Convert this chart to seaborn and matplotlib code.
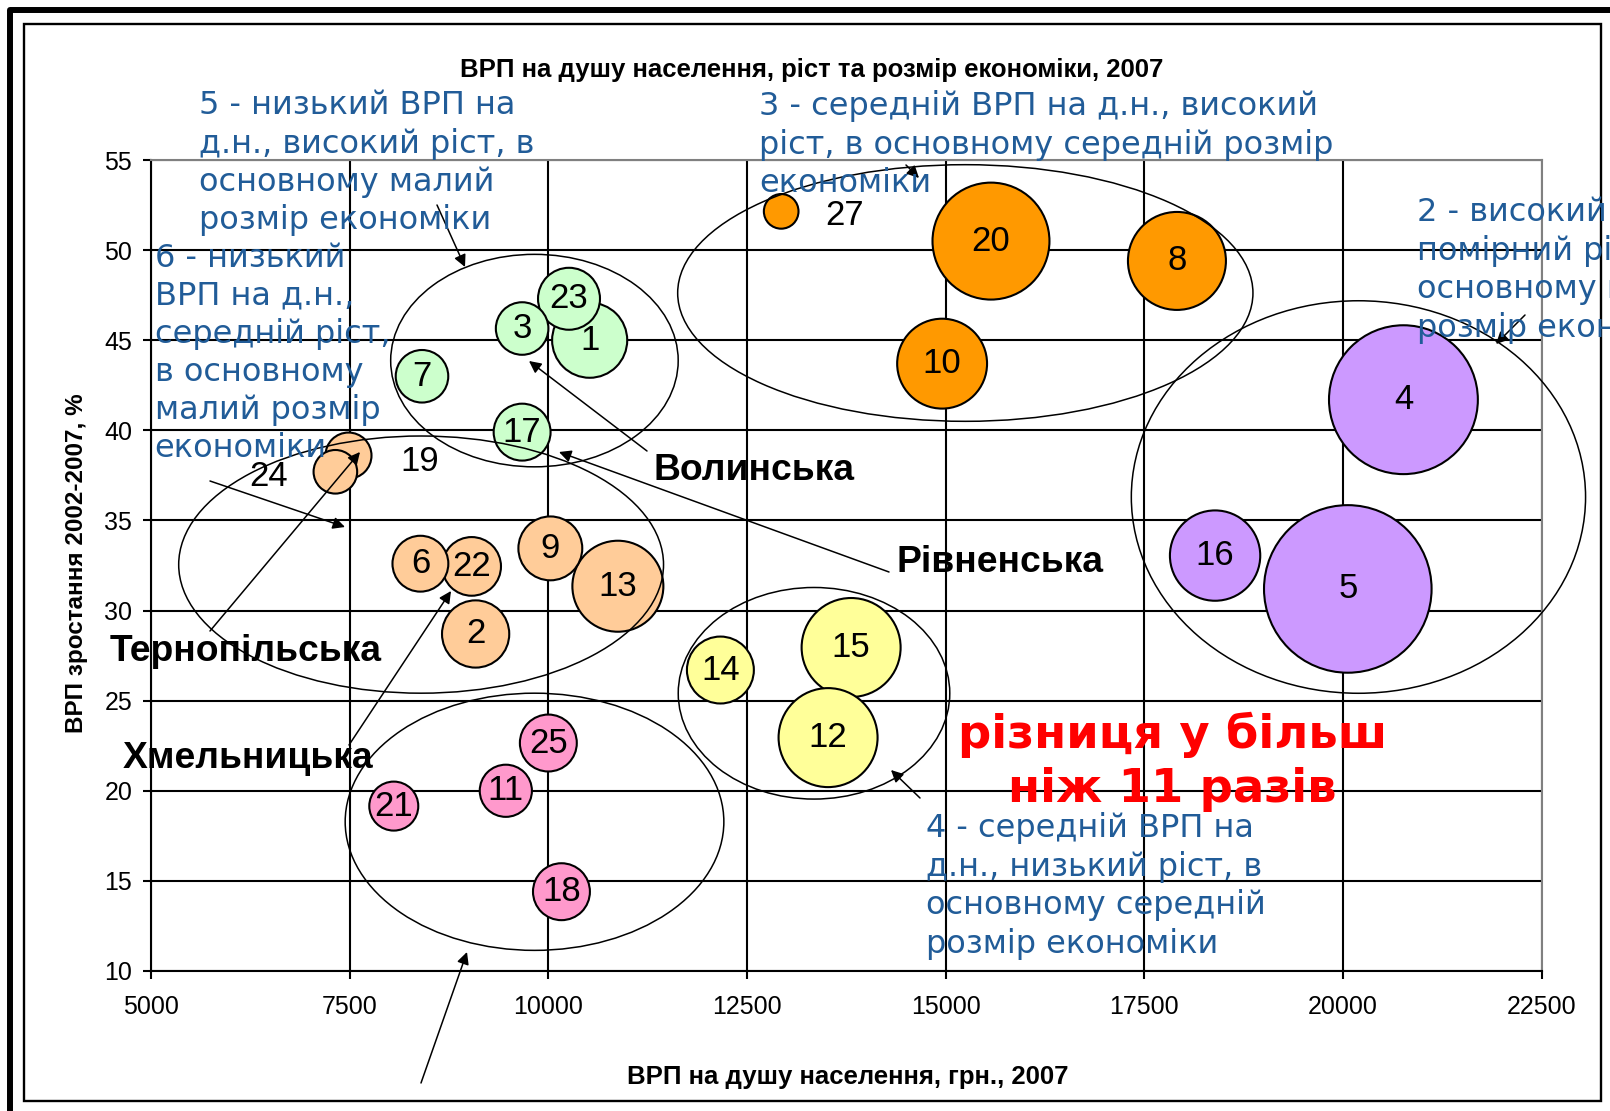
import numpy as np
import pandas as pd
import matplotlib.pyplot as plt
import seaborn as sns
from matplotlib.patches import Ellipse, Rectangle
from matplotlib.lines import Line2D

# Дані: номер регіону, ВРП на д.н. (грн), ріст 2002-2007 (%), розмір економіки (відн.), кластер
region = [27, 20, 8, 10, 4, 16, 5, 23, 3, 1, 7, 17, 19, 24, 6, 22, 9, 13, 2, 14, 15, 12, 25, 11, 21, 18]
grp_pc = [12930, 15570, 17910, 14955, 20760, 18390, 20060, 10260, 9670, 10520, 8410, 9670, 7485,
          7320, 8390, 9035, 10025, 10875, 9085, 12165, 13810, 13520, 10000, 9465, 8055, 10165]
growth = [52.15, 50.5, 49.4, 43.7, 41.7, 33.05, 31.2, 47.3, 45.65, 45.0, 43.0, 39.9, 38.6,
          37.7, 32.6, 32.45, 33.45, 31.35, 28.7, 26.7, 27.95, 22.95, 22.65, 20.0, 19.15, 14.4]
econ_size = [3.0, 34.2, 24.0, 20.2, 55.4, 20.4, 70.2, 9.6, 6.9, 14.1, 6.9, 8.1, 5.3,
             4.75, 7.8, 8.6, 10.2, 20.7, 11.3, 11.2, 24.5, 24.5, 8.1, 6.8, 6.0, 8.1]
cluster = ["3", "3", "3", "3", "2", "2", "2", "5", "5", "5", "5", "5", "6",
           "6", "6", "6", "6", "6", "6", "4", "4", "4", "1", "1", "1", "1"]

palette = {"1": "#FF99CC", "2": "#CC99FF", "3": "#FF9900",
           "4": "#FFFF99", "5": "#CCFFCC", "6": "#FFCC99"}

x_ticks = np.arange(5000, 22501, 2500)
y_ticks = np.arange(10, 56, 5)

title = "ВРП на душу населення, ріст та розмір економіки, 2007"
x_label = "ВРП на душу населення, грн., 2007"
y_label = "ВРП зростання 2002-2007, %"

W, H = 1610, 1111
def fx(px):
    return px / W
def fy(py):
    return 1 - py / H

sns.set_style("white")
plt.rcParams['font.family'] = ['Liberation Sans', 'DejaVu Sans']
plt.rcParams['text.color'] = 'black'
plt.rcParams['axes.labelcolor'] = 'black'
plt.rcParams['xtick.color'] = 'black'
plt.rcParams['ytick.color'] = 'black'

fig = plt.figure(figsize=(W / 100, H / 100), dpi=100)
ax = fig.add_axes([fx(151), fy(971), fx(1541.7) - fx(151), fy(160) - fy(971)])

df = pd.DataFrame({"region": region, "grp": grp_pc, "growth": growth,
                   "size": econ_size, "cluster": cluster})
df = df.sort_values("size", ascending=False)  # великі бульбашки позаду

k = (2 * 10 * 72 / 100) ** 2  # площа маркера в pt^2 на одиницю розміру
smin, smax = df["size"].min(), df["size"].max()
sns.scatterplot(data=df, x="grp", y="growth", hue="cluster", palette=palette,
                size="size", sizes=(smin * k, smax * k), size_norm=(smin, smax),
                edgecolor="black", linewidth=1.5, legend=False, ax=ax, zorder=3)

# підписи бульбашок
outside = {27: (44, -14, "left"), 19: (52, -15, "left"), 24: (-47, -14, "right")}
for _, r in df.iterrows():
    lab = str(int(r["region"]))
    if int(r["region"]) in outside:
        dx, dy, ha = outside[int(r["region"])]
        ax.annotate(lab, (r["grp"], r["growth"]), xytext=(dx, dy), textcoords="offset pixels",
                    ha=ha, va="baseline", fontsize=25, color="black", zorder=6)
    else:
        ax.text(r["grp"], r["growth"], lab, ha="center", va="center", fontsize=25,
                color="black", zorder=6)

# еліпси груп
groups = [(9825, 43.87, 3618, 11.79), (15247, 47.62, 7239, 14.24), (20194, 36.3, 5716, 21.78),
          (13343, 25.41, 3417, 11.74), (8399, 32.55, 6101, 14.27), (9826, 18.28, 4765, 14.27)]
for cx, cy, w, h in groups:
    ax.add_patch(Ellipse((cx, cy), w, h, fill=False, ec="black", lw=1.1, clip_on=False, zorder=4))

ax.set_xlim(5000, 22500)
ax.set_ylim(10, 55)
ax.set_xticks(x_ticks)
ax.set_yticks(y_ticks)
ax.grid(True, color="black", lw=1.5)
ax.set_axisbelow(True)
for s in ["left", "bottom"]:
    ax.spines[s].set_color("black")
    ax.spines[s].set_linewidth(1.5)
for s in ["top", "right"]:
    ax.spines[s].set_color("#808080")
    ax.spines[s].set_linewidth(1.5)
ax.tick_params(bottom=True, left=True, direction="out", length=5.5, width=1.5,
               labelsize=18, color="black", labelcolor="black")
ax.tick_params(axis="x", pad=11.5)
ax.tick_params(axis="y", pad=8)

ax.set_xlabel(x_label, fontsize=18.5, fontweight="bold", color="black")
ax.xaxis.set_label_coords(fx(847.5), fy(1077), transform=fig.transFigure)
ax.xaxis.label.set_va("center")
ax.set_ylabel(y_label, fontsize=17.5, fontweight="bold", color="black")
ax.yaxis.set_label_coords(fx(76), fy(563), transform=fig.transFigure)
ax.yaxis.label.set_va("center")
fig.suptitle(title, x=fx(812), y=fy(69.5), va="center", fontsize=18.5, fontweight="bold",
             color="black")

# рамки
fig.add_artist(Line2D([fx(10.3), fx(10.3), 1], [0, fy(10.3), fy(10.3)], color="black",
                      lw=4.3, transform=fig.transFigure))
fig.add_artist(Rectangle((fx(23.8), fy(1101)), fx(1601) - fx(23.8), fy(23.8) - fy(1101),
                         fill=False, ec="black", lw=1.7, transform=fig.transFigure))

# описи груп (y - базова лінія останнього рядка)
blue = "#215C98"
notes = [
    (199, 229.3, "5 - низький ВРП на\nд.н., високий ріст, в\nосновному малий\nрозмір економіки"),
    (759, 191.5, "3 - середній ВРП на д.н., високий\nріст, в основному середній розмір\nекономіки"),
    (154.6, 456.7, "6 - низький\nВРП на д.н.,\nсередній ріст,\nв основному\nмалий розмір\nекономіки"),
    (1417, 336.7, "2 - високий ВРП на д.н.,\nпомірний ріст, в\nосновному великий\nрозмір економіки"),
    (925.5, 952.9, "4 - середній ВРП на\nд.н., низький ріст, в\nосновному середній\nрозмір економіки"),
]
for x, y, t in notes:
    fig.text(fx(x), fy(y), t, fontsize=23, color=blue, family=["DejaVu Sans"],
             va="baseline", ha="left", linespacing=1.267)

fig.text(fx(1172.4), fy(802.4), "різниця у більш\nніж 11 разів", fontsize=33.5, color="red",
         family=["DejaVu Sans"], fontweight="bold", ha="center", va="baseline",
         multialignment="center", linespacing=1.26)

oblasts = [(653, 480, "Волинська"), (896, 572.3, "Рівненська"),
           (109.7, 661.2, "Тернопільська"), (122.4, 768, "Хмельницька")]
for x, y, t in oblasts:
    fig.text(fx(x), fy(y), t, fontsize=26.8, fontweight="bold", va="baseline", ha="left",
             color="black")

# стрілки
arrows = [(437, 205, 465, 267), (647, 451, 529, 361), (889, 572, 559, 452),
          (210, 481, 345, 527), (210, 631, 360, 452), (349, 745, 451, 591),
          (421, 1083, 467, 952), (920, 798, 891, 770), (906, 165, 919, 178),
          (1525, 315, 1496, 344)]
for x0, y0, x1, y1 in arrows:
    ax.annotate("", xy=(x1, H - y1), xytext=(x0, H - y0), xycoords="figure pixels",
                textcoords="figure pixels", annotation_clip=False,
                arrowprops=dict(arrowstyle="-|>", color="black", lw=1.1,
                                mutation_scale=18, shrinkA=0, shrinkB=0))

fig.savefig("out.png", dpi=100)
